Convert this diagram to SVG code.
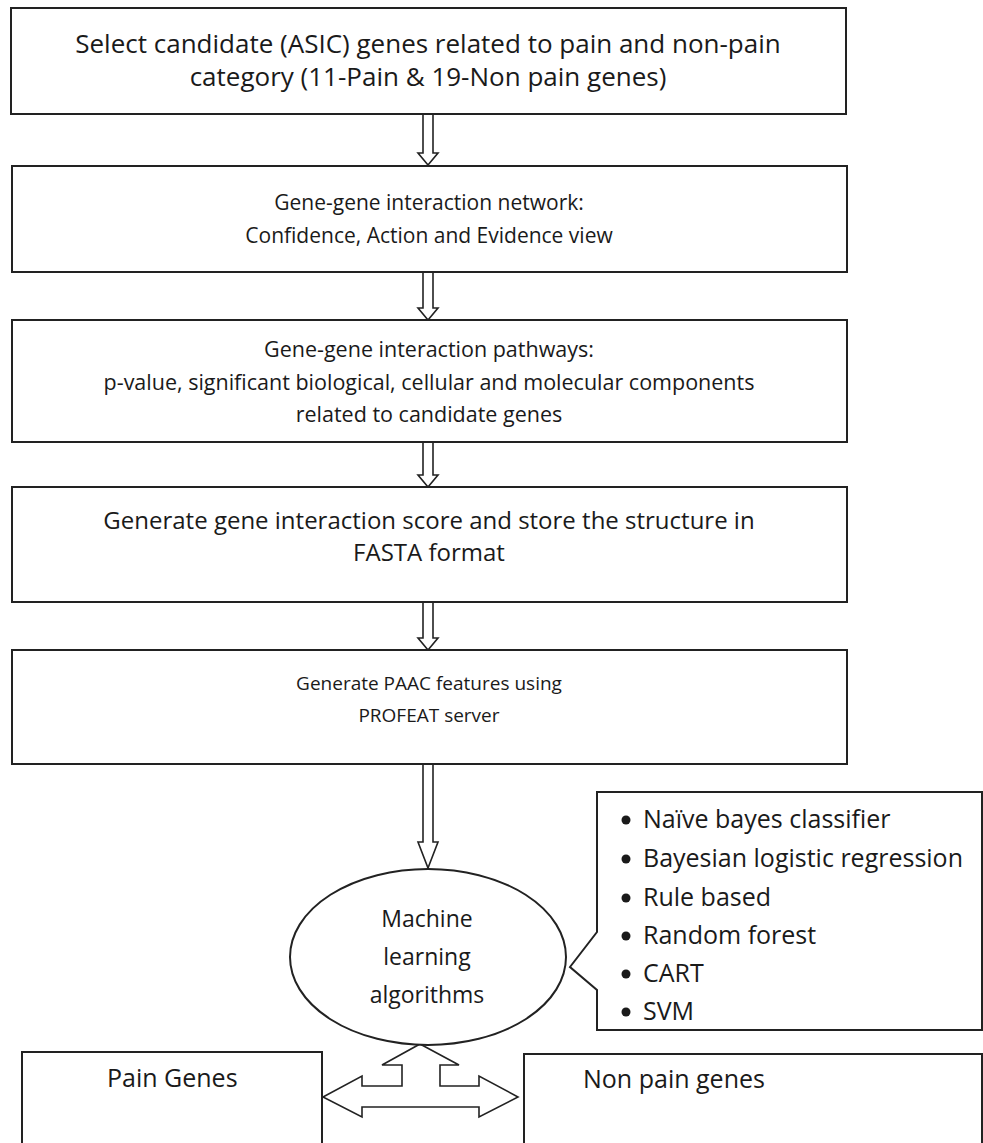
<svg xmlns="http://www.w3.org/2000/svg" width="983" height="1143" viewBox="0 0 983 1143">
<style>
.box{fill:#fff;stroke:#222;stroke-width:2}
.arr{fill:#fff;stroke:#222;stroke-width:1.6;stroke-linejoin:miter}
.t{font-family:"Open Sans","Noto Sans",sans-serif;fill:#1a1a1a;text-anchor:middle}
.s1{font-size:26px}
.s2{font-size:21px}
.s3{font-size:21.5px}
.s4{font-size:24px}
.s5{font-size:19px}
.e{font-size:23px}
.b{font-family:"Open Sans","Noto Sans",sans-serif;font-size:25px;fill:#1a1a1a}
.l{font-family:"Open Sans","Noto Sans",sans-serif;font-size:25px;fill:#1a1a1a}
</style>
<rect width="983" height="1143" fill="#fff"/>
<g id="connectors">
<path class="arr" d="M423,114 V153 H418 L428,165 L438,153 H433 V114"/>
<path class="arr" d="M423,272 V308 H418 L428,320 L438,308 H433 V272"/>
<path class="arr" d="M423,442 V475 H418 L428,487 L438,475 H433 V442"/>
<path class="arr" d="M423,602 V638 H418 L428,650 L438,638 H433 V602"/>
<path class="arr" d="M423,764 V842 H418 L428,868 L438,842 H433 V764"/>
<path class="arr" d="M420,1044 L459,1065 H440 V1086 H479 V1076 L518,1097 L479,1117 V1107 H362 V1117 L323,1097 L362,1076 V1086 H402 V1065 H382 Z"/>
</g>
<g id="n1">
<rect class="box" x="11" y="8" width="835" height="106"/>
<text class="t s1" x="428" y="53">Select candidate (ASIC) genes related to pain and non-pain</text>
<text class="t s1" x="428" y="86">category (11-Pain &amp; 19-Non pain genes)</text>
</g>
<g id="n2">
<rect class="box" x="12" y="166" width="835" height="106"/>
<text class="t s2" x="429" y="210">Gene-gene interaction network:</text>
<text class="t s2" x="429" y="243">Confidence, Action and Evidence view</text>
</g>
<g id="n3">
<rect class="box" x="12" y="320" width="835" height="122"/>
<text class="t s3" x="429" y="357">Gene-gene interaction pathways:</text>
<text class="t s3" x="429" y="390">p-value, significant biological, cellular and molecular components</text>
<text class="t s3" x="429" y="422">related to candidate genes</text>
</g>
<g id="n4">
<rect class="box" x="12" y="487" width="835" height="115"/>
<text class="t s4" x="429" y="529">Generate gene interaction score and store the structure in</text>
<text class="t s4" x="429" y="561">FASTA format</text>
</g>
<g id="n5">
<rect class="box" x="12" y="650" width="835" height="114"/>
<text class="t s5" x="429" y="690">Generate PAAC features using</text>
<text class="t s5" x="429" y="722">PROFEAT server</text>
</g>
<g id="n6">
<ellipse class="box" cx="428" cy="957" rx="138" ry="88"/>
<text class="t e" x="427" y="927">Machine</text>
<text class="t e" x="427" y="965">learning</text>
<text class="t e" x="427" y="1003">algorithms</text>
</g>
<g id="n7">
<path class="box" d="M597,792 H982 V1030 H597 V990 L570,967 L597,932 Z"/>
<g class="b">
<circle cx="626" cy="820" r="4.5" fill="#1a1a1a"/><text x="643" y="828">Naïve bayes classifier</text>
<circle cx="626" cy="859" r="4.5" fill="#1a1a1a"/><text x="643" y="867">Bayesian logistic regression</text>
<circle cx="626" cy="898" r="4.5" fill="#1a1a1a"/><text x="643" y="906">Rule based</text>
<circle cx="626" cy="936" r="4.5" fill="#1a1a1a"/><text x="643" y="944">Random forest</text>
<circle cx="626" cy="974" r="4.5" fill="#1a1a1a"/><text x="643" y="982">CART</text>
<circle cx="626" cy="1012" r="4.5" fill="#1a1a1a"/><text x="643" y="1020">SVM</text>
</g>
</g>
<g id="n8">
<rect class="box" x="22" y="1052" width="300" height="100"/>
<text class="l" x="107" y="1087">Pain Genes</text>
</g>
<g id="n9">
<rect class="box" x="524" y="1054" width="458" height="100"/>
<text class="l" x="583" y="1088">Non pain genes</text>
</g>
</svg>
